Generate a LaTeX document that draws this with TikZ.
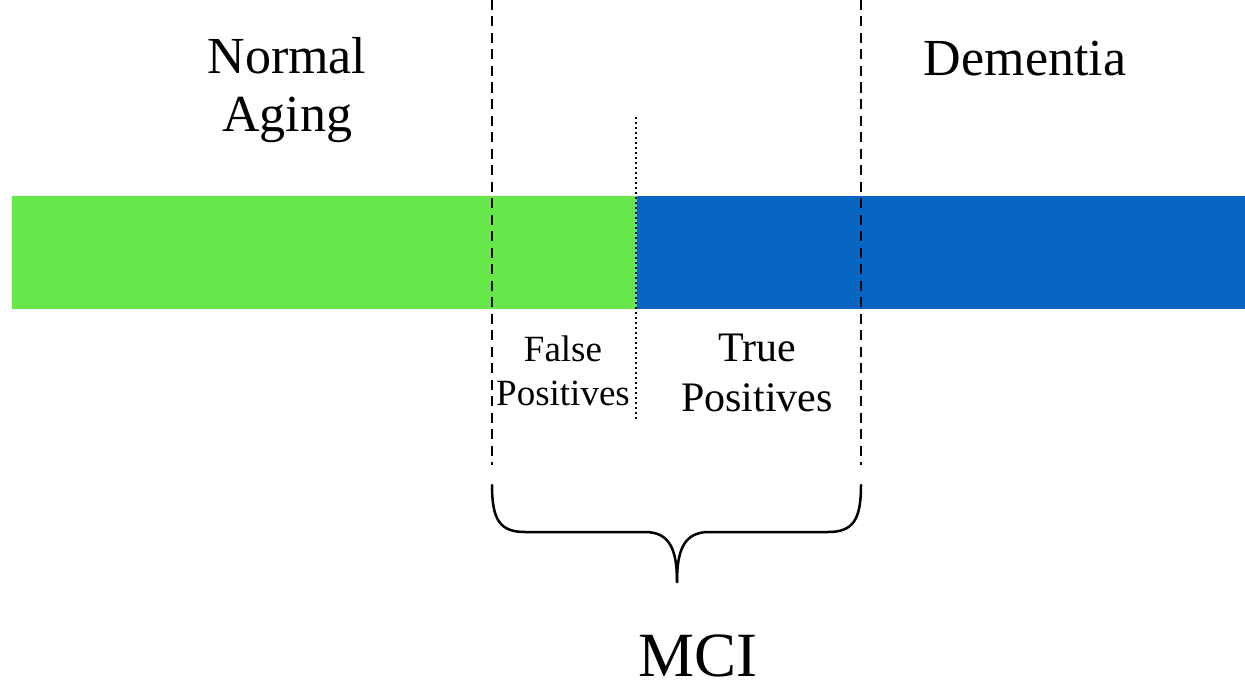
\documentclass[tikz,border=0pt]{standalone}
\usepackage{fontspec}
\setmainfont{Liberation Serif}
\definecolor{barGreen}{HTML}{66E84A}
\definecolor{barBlue}{HTML}{0766C2}
\begin{document}
\begin{tikzpicture}[x=1pt,y=1pt,
  bigtxt/.style={inner sep=0pt,anchor=base,font=\fontsize{52}{58}\selectfont},
  fptxt/.style={inner sep=0pt,anchor=base,font=\fontsize{37}{44}\selectfont},
  tptxt/.style={inner sep=0pt,anchor=base,font=\fontsize{42}{50}\selectfont},
  dashline/.style={line width=2.2pt,dash pattern=on 10pt off 6.5pt},
  dotline/.style={line width=2pt,dash pattern=on 2pt off 3pt},
  bracestyle/.style={line width=2.5pt,line cap=round}]
\useasboundingbox (0,0) rectangle (1245,-685);
\fill[barGreen] (12,-196) rectangle (637,-309);
\fill[barBlue] (637,-196) rectangle (1245,-309);
\coordinate (d1t) at (492,0);
\coordinate (d1b) at (492,-465);
\coordinate (d2t) at (861,0);
\coordinate (d2b) at (861,-465);
\coordinate (dot1) at (636,-117);
\coordinate (dot2) at (636,-420);
\draw[dashline] (d1t) -- (d1b);
\draw[dashline] (d2t) -- (d2b);
\draw[dotline] (dot1) -- (dot2);
\coordinate (bl) at (492,-485);
\coordinate (br) at (861,-485);
\coordinate (tip) at (677,-582);
\draw[bracestyle] (bl) .. controls (492,-520) and (500,-532) .. (525,-532) -- (645,-532) .. controls (670,-532) and (677,-550) .. (tip);
\draw[bracestyle] (br) .. controls (861,-520) and (853,-532) .. (828,-532) -- (709,-532) .. controls (684,-532) and (677,-550) .. (tip);
\node[bigtxt,align=center] (normal) at (287,-131) {Normal\\Aging};
\node[bigtxt] (dementia) at (1025,-75) {Dementia};
\node[inner sep=0pt,anchor=base,text depth=0pt,font=\fontsize{63}{70}\selectfont] (mci) at (698,-676) {MCI};
\node[fptxt,align=center] (fp) at (563,-405) {False\\Positives};
\node[tptxt,align=center] (tp) at (757,-411) {True\\Positives};
\end{tikzpicture}
\end{document}
